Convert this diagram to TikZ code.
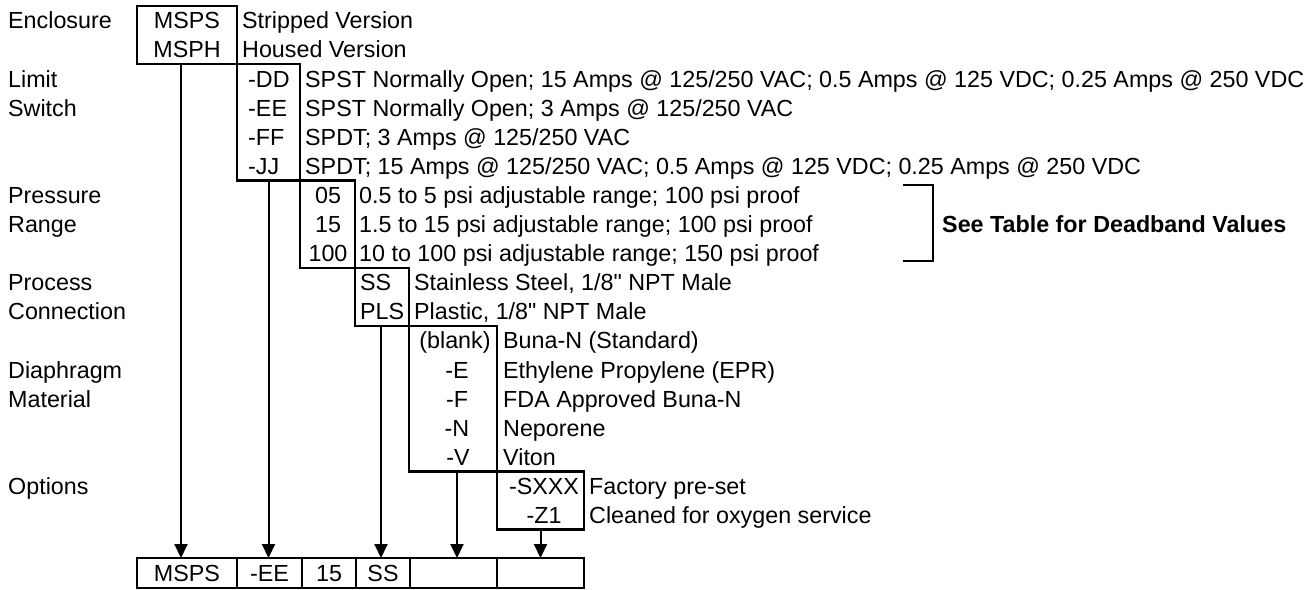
\documentclass[tikz,border=0pt]{standalone}
\usepackage{fontspec}
\setmainfont{Liberation Sans}
\newfontfamily\qfont{Liberation Sans}
\newcommand{\inchmark}{{\qfont\symbol{34}}}
\usetikzlibrary{arrows.meta}
\begin{document}
\begin{tikzpicture}[x=1pt,y=-1pt,
  txt/.style={inner sep=0pt, text height=16.7pt, text depth=0pt, font=\fontsize{23.3}{29}\selectfont},
  lbl/.style={txt, anchor=west},
  ctr/.style={txt, anchor=center},
  box/.style={draw, line width=2.5pt, inner sep=0pt, outer sep=0pt},
  cell/.style={draw, line width=2pt, inner sep=0pt, outer sep=0pt, minimum height=29.5pt, text height=16.7pt, text depth=0pt, font=\fontsize{23.3}{29}\selectfont},
  arr/.style={-{Triangle[length=14pt,width=13pt]}, line width=2pt}]
\useasboundingbox (0,0) rectangle (1316,589);

% step boxes
\node[box, minimum width=100pt, minimum height=58.2pt] (box1) at (187,35.1) {};
\node[box, minimum width=63pt, minimum height=116.3pt] (box2) at (268.5,122.35) {};
\node[box, minimum width=55pt, minimum height=87.4pt] (box3) at (327.5,224.2) {};
\node[box, minimum width=54pt, minimum height=58.1pt] (box4) at (382,296.95) {};
\node[box, minimum width=88pt, minimum height=145.6pt] (box5) at (453,398.8) {};
\node[box, minimum width=87pt, minimum height=58.1pt] (box6) at (540.5,500.65) {};

% left labels
\node[lbl] (l1) at (8,20.5) {Enclosure};
\node[lbl] (l2) at (8,78.7) {Limit};
\node[lbl] (l3) at (8,107.8) {Switch};
\node[lbl] (l4) at (8,195.1) {Pressure};
\node[lbl] (l5) at (8,224.2) {Range};
\node[lbl] (l6) at (8,282.4) {Process};
\node[lbl] (l7) at (8,311.5) {Connection};
\node[lbl] (l8) at (8,369.7) {Diaphragm};
\node[lbl] (l9) at (8,398.8) {Material};
\node[lbl] (l10) at (8,486.1) {Options};

% enclosure
\node[ctr] (c01) at (187,20.5) {MSPS};
\node[ctr] (c02) at (187,49.6) {MSPH};
\node[lbl] (d01) at (242,20.5) {Stripped Version};
\node[lbl] (d02) at (242,49.6) {Housed Version};

% limit switch
\node[lbl] (c03) at (248,78.7) {-DD};
\node[lbl] (c04) at (248,107.8) {-EE};
\node[lbl] (c05) at (248,136.9) {-FF};
\node[lbl] (c06) at (248,166.0) {-JJ};
\node[lbl] (d03) at (305,78.7) {SPST Normally Open; 15 Amps @ 125/250 VAC; 0.5 Amps @ 125 VDC; 0.25 Amps @ 250 VDC};
\node[lbl] (d04) at (305,107.8) {SPST Normally Open; 3 Amps @ 125/250 VAC};
\node[lbl] (d05) at (305,136.9) {SPDT; 3 Amps @ 125/250 VAC};
\node[lbl] (d06) at (305,166.0) {SPDT; 15 Amps @ 125/250 VAC; 0.5 Amps @ 125 VDC; 0.25 Amps @ 250 VDC};

% pressure range
\node[ctr] (c07) at (328,195.1) {05};
\node[ctr] (c08) at (328,224.2) {15};
\node[ctr] (c09) at (328,253.3) {100};
\node[lbl] (d07) at (359,195.1) {0.5 to 5 psi adjustable range; 100 psi proof};
\node[lbl] (d08) at (359,224.2) {1.5 to 15 psi adjustable range; 100 psi proof};
\node[lbl] (d09) at (359,253.3) {10 to 100 psi adjustable range; 150 psi proof};
\draw[line width=2.5pt] (903,185) -- (933,185) -- (933,261) -- (903,261);
\node[lbl, font=\fontsize{23.3}{29}\selectfont\bfseries] (see) at (942,224.2) {See Table for Deadband Values};

% process connection
\node[lbl] (c10) at (360,282.4) {SS};
\node[lbl] (c11) at (360,311.5) {PLS};
\node[lbl] (d10) at (414,282.4) {Stainless Steel, 1/8\inchmark{} NPT Male};
\node[lbl] (d11) at (414,311.5) {Plastic, 1/8\inchmark{} NPT Male};

% diaphragm
\node[ctr] (c12) at (455,340.6) {(blank)};
\node[ctr] (c13) at (457,369.7) {-E};
\node[ctr] (c14) at (457,398.8) {-F};
\node[ctr] (c15) at (457,427.9) {-N};
\node[ctr] (c16) at (458,457.0) {-V};
\node[lbl] (d12) at (503,340.6) {Buna-N (Standard)};
\node[lbl] (d13) at (503,369.7) {Ethylene Propylene (EPR)};
\node[lbl] (d14) at (503,398.8) {FDA Approved Buna-N};
\node[lbl] (d15) at (503,427.9) {Neporene};
\node[lbl] (d16) at (503,457.0) {Viton};

% options
\node[ctr] (c17) at (544,486.1) {-SXXX};
\node[ctr] (c18) at (544,515.2) {-Z1};
\node[lbl] (d17) at (589,486.1) {Factory pre-set};
\node[lbl] (d18) at (589,515.2) {Cleaned for oxygen service};

% bottom cells
\node[cell, minimum width=100pt] (b1) at (187,572.75) {MSPS};
\node[cell, minimum width=65pt] (b2) at (269.5,572.75) {-EE};
\node[cell, minimum width=54pt] (b3) at (329,572.75) {15};
\node[cell, minimum width=54pt] (b4) at (383,572.75) {SS};
\node[cell, minimum width=87pt] (b5) at (453.5,572.75) {};
\node[cell, minimum width=87pt] (b6) at (540.5,572.75) {};

% arrows
\draw[arr] ([xshift=-6pt]box1.south) -- ([xshift=-6pt]box1.south |- b1.north);
\draw[arr] (box2.south) -- (box2.south |- b2.north);
\draw[arr] ([xshift=-1pt]box4.south) -- ([xshift=-1pt]box4.south |- b4.north);
\draw[arr] ([xshift=4pt]box5.south) -- ([xshift=4pt]box5.south |- b5.north);
\draw[arr] (box6.south) -- (box6.south |- b6.north);
\end{tikzpicture}
\end{document}
